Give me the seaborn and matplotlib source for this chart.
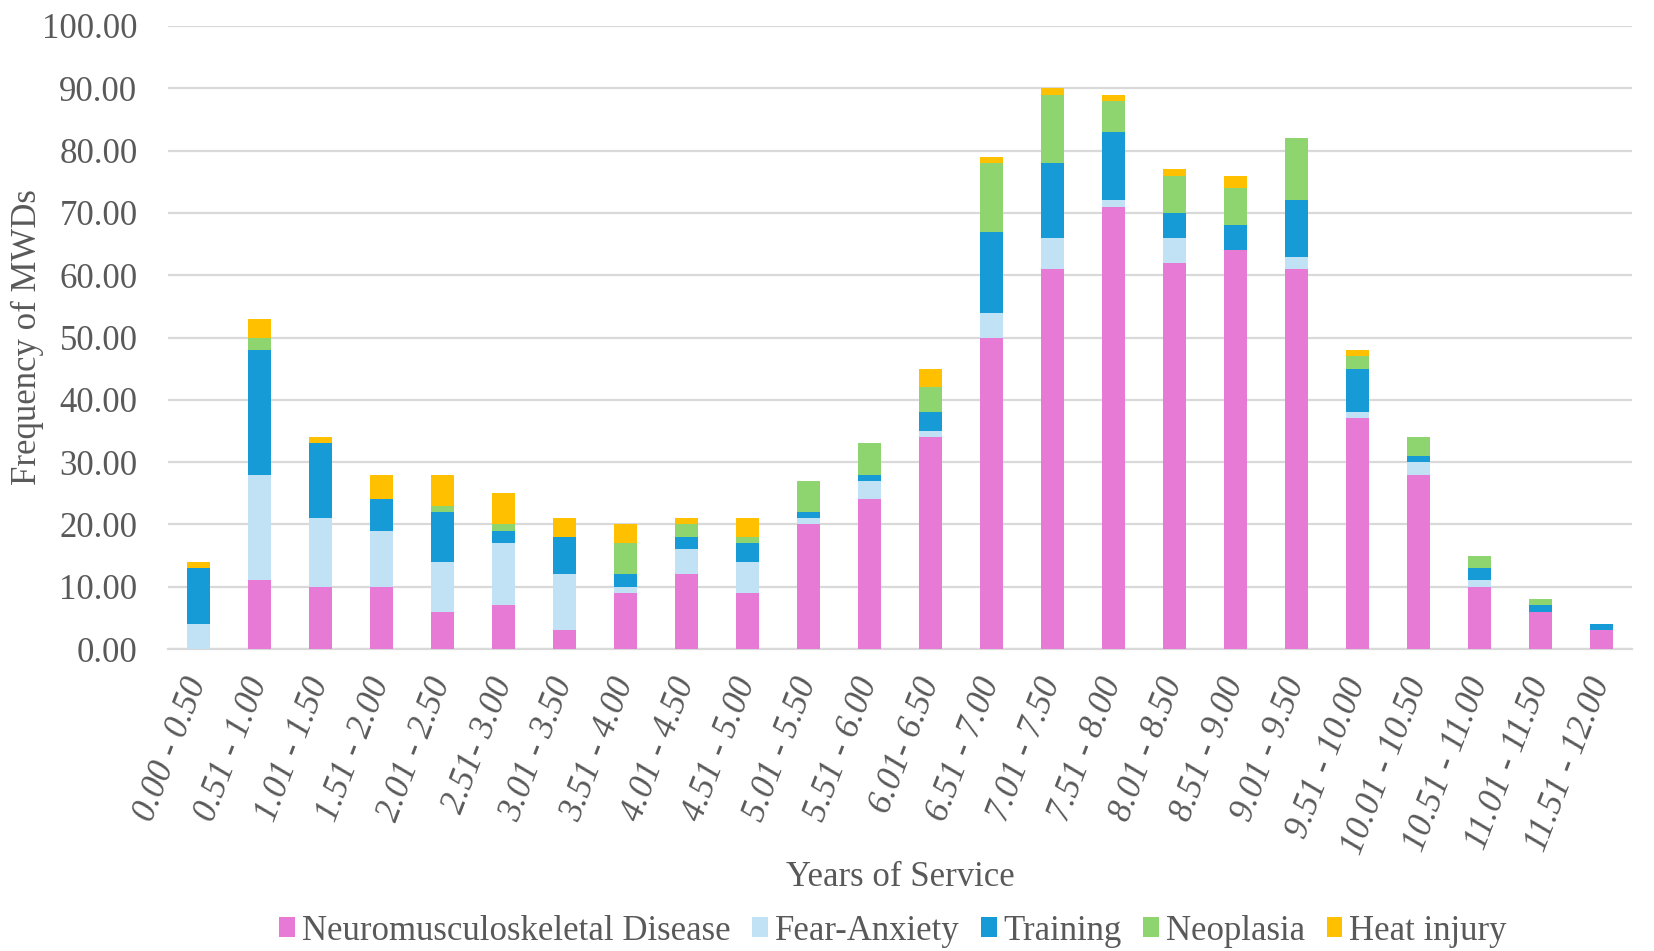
import numpy as np
import pandas as pd
import matplotlib
matplotlib.use("Agg")
import matplotlib.pyplot as plt
from matplotlib.patches import Patch
import seaborn as sns

categories = ["0.00 - 0.50", "0.51 - 1.00", "1.01 - 1.50", "1.51 - 2.00", "2.01 - 2.50",
              "2.51- 3.00", "3.01 - 3.50", "3.51 - 4.00", "4.01 - 4.50", "4.51 - 5.00",
              "5.01 - 5.50", "5.51 - 6.00", "6.01- 6.50", "6.51 - 7.00", "7.01 - 7.50",
              "7.51 - 8.00", "8.01 - 8.50", "8.51 - 9.00", "9.01 - 9.50", "9.51 - 10.00",
              "10.01 - 10.50", "10.51 - 11.00", "11.01 - 11.50", "11.51 - 12.00"]

neuro    = [0, 11, 10, 10, 6, 7, 3, 9, 12, 9, 20, 24, 34, 50, 61, 71, 62, 64, 61, 37, 28, 10, 6, 3]
fear     = [4, 17, 11, 9, 8, 10, 9, 1, 4, 5, 1, 3, 1, 4, 5, 1, 4, 0, 2, 1, 2, 1, 0, 0]
training = [9, 20, 12, 5, 8, 2, 6, 2, 2, 3, 1, 1, 3, 13, 12, 11, 4, 4, 9, 7, 1, 2, 1, 1]
neoplasia= [0, 2, 0, 0, 1, 1, 0, 5, 2, 1, 5, 5, 4, 11, 11, 5, 6, 6, 10, 2, 3, 2, 1, 0]
heat     = [1, 3, 1, 4, 5, 5, 3, 3, 1, 3, 0, 0, 3, 1, 1, 1, 1, 2, 0, 1, 0, 0, 0, 0]

series_names = ["Neuromusculoskeletal Disease", "Fear-Anxiety", "Training", "Neoplasia", "Heat injury"]
colors = ["#E77AD5", "#C0E2F4", "#179BD7", "#8ED56F", "#FFC000"]

sns.set_style("white")
plt.rcParams['font.family'] = ['Liberation Serif', 'DejaVu Serif']
txt = "#595959"
fs = 25

fig = plt.figure(figsize=(16.54, 9.51), dpi=100)
ax = fig.add_axes([168/1654, 1-649/951, (1632-168)/1654, (649-26)/951])

layers = [neuro, fear, training, neoplasia, heat]
cum = np.cumsum(np.array(layers, dtype=float), axis=0)

for i in range(len(layers)-1, -1, -1):
    df = pd.DataFrame({"cat": categories, "val": cum[i]})
    sns.barplot(data=df, x="cat", y="val", order=categories, color=colors[i],
                saturation=1, width=0.38, linewidth=0, ax=ax, zorder=3)

ax.set_ylim(0, 100)
ax.set_xlim(-0.5, len(categories)-0.5)
ax.set_yticks(np.arange(0, 101, 10))
ax.set_yticklabels([f"{v:.2f}" for v in np.arange(0, 101, 10)], fontsize=fs, color=txt)
ax.yaxis.grid(True, color="#D9D9D9", linewidth=1.6, zorder=0)
ax.set_axisbelow(True)
for s in ["top", "right", "left"]:
    ax.spines[s].set_visible(False)
ax.spines["bottom"].set_color("#D9D9D9")
ax.spines["bottom"].set_linewidth(1.6)
ax.tick_params(axis='y', length=0, pad=22)
ax.tick_params(axis='x', length=0, pad=22)

ax.set_xticks(range(len(categories)))
ax.set_xticklabels(categories, rotation=69, ha='right', va='center', rotation_mode='anchor',
                   fontsize=fs, color=txt, style='italic')

ax.set_ylabel("Frequency of MWDs", fontsize=fs, color=txt)
ax.yaxis.set_label_coords(-(168-27)/1464, 0.5)
ax.yaxis.label.set_va('center')
ax.set_xlabel("Years of Service", fontsize=fs, color=txt)
ax.xaxis.set_label_coords(0.5, (649-878)/623)
ax.xaxis.label.set_va('center')

handles = [Patch(facecolor=c, edgecolor='none') for c in colors]
fig.legend(handles, series_names, loc='center', bbox_to_anchor=(893/1654, 1-931/951), ncol=5,
           frameon=False, fontsize=fs, handlelength=0.45, handleheight=0.5,
           handletextpad=0.2, columnspacing=0.62, labelcolor=txt)

fig.savefig("out.png", dpi=100)
